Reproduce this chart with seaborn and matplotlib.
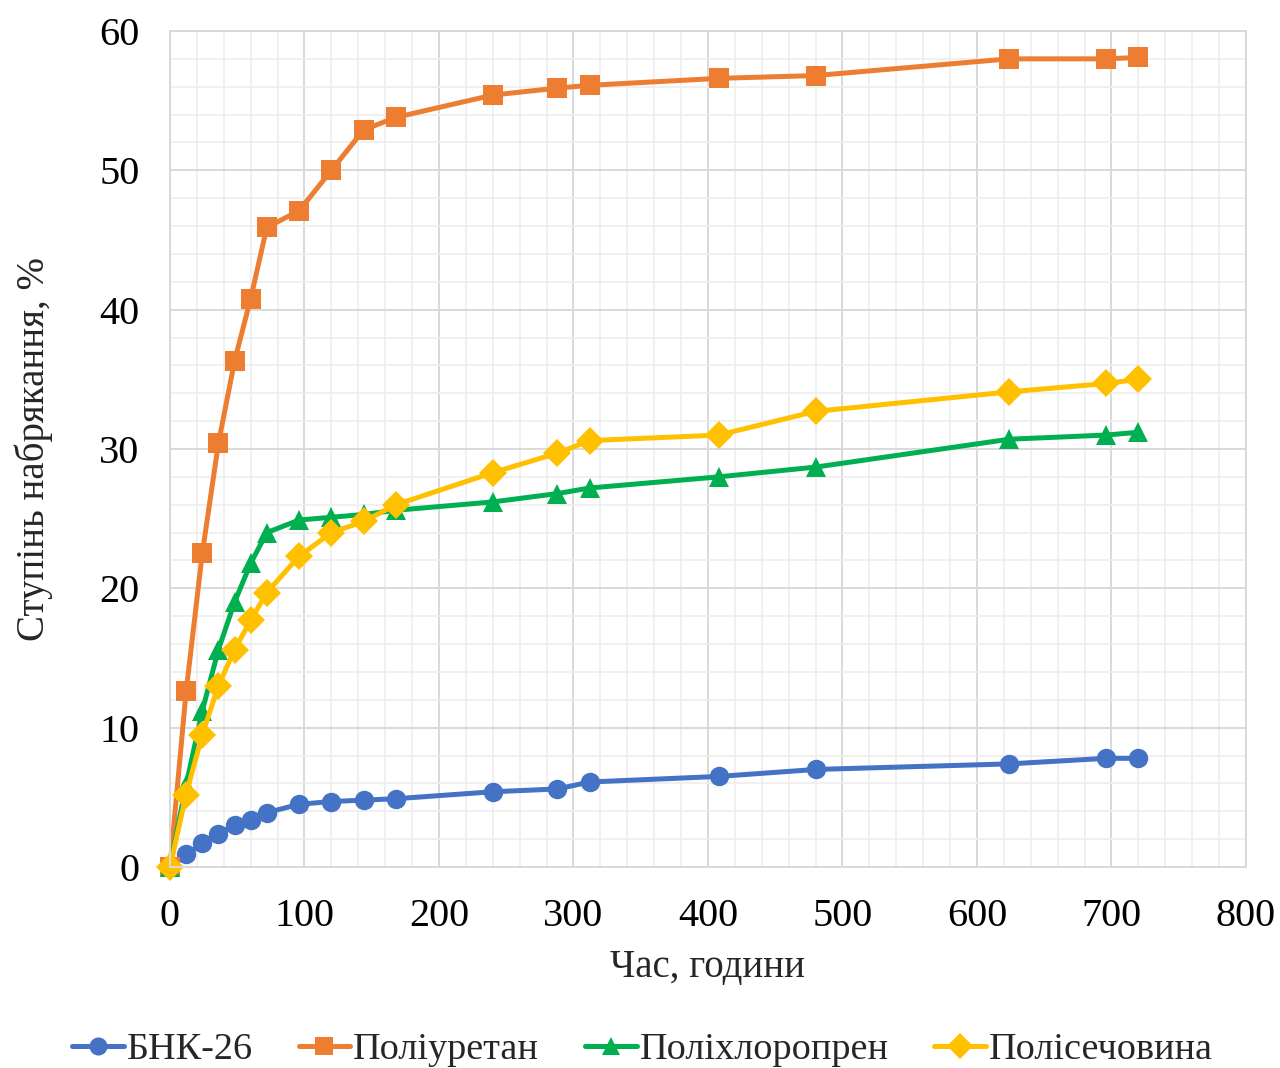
import numpy as np
import pandas as pd
import matplotlib
matplotlib.use("Agg")
import matplotlib.pyplot as plt
import seaborn as sns
from matplotlib.ticker import MultipleLocator

hours = [0, 12, 24, 36, 48, 60, 72, 96, 120, 144, 168, 240, 288, 312, 408, 480, 624, 696, 720]
bnk26 = [0, 0.9, 1.7, 2.4, 3.0, 3.4, 3.9, 4.5, 4.7, 4.8, 4.9, 5.4, 5.6, 6.1, 6.5, 7.0, 7.4, 7.8, 7.8]
polyurethane = [0, 12.6, 22.5, 30.4, 36.3, 40.8, 45.9, 47.1, 50.0, 52.9, 53.8, 55.4, 55.9, 56.1, 56.6, 56.8, 58.0, 58.0, 58.1]
polychloroprene = [0, 5.9, 11.2, 15.6, 19.0, 21.8, 24.0, 24.9, 25.1, 25.3, 25.6, 26.2, 26.8, 27.2, 28.0, 28.7, 30.7, 31.0, 31.2]
polyurea = [0, 5.2, 9.5, 13.0, 15.6, 17.7, 19.7, 22.3, 24.0, 24.8, 26.0, 28.3, 29.7, 30.6, 31.0, 32.7, 34.1, 34.7, 35.0]

names = ["БНК-26", "Поліуретан", "Поліхлоропрен", "Полісечовина"]
colors = ["#4472C4", "#ED7D31", "#00B050", "#FFC000"]
markers = ["o", "s", "^", "D"]

frames = []
for n, vals in zip(names, [bnk26, polyurethane, polychloroprene, polyurea]):
    frames.append(pd.DataFrame({"x": hours, "y": vals, "s": n}))
df = pd.concat(frames, ignore_index=True)

sns.set_theme(style="white")
plt.rcParams['font.family'] = ['Liberation Serif', 'DejaVu Serif']

fig = plt.figure(figsize=(12.8, 10.68), dpi=100)
ax = fig.add_axes([0.1328, 0.1882, 0.8406, 0.7828])

sns.lineplot(data=df, x="x", y="y", hue="s", style="s", hue_order=names, style_order=names,
             palette=colors, markers=markers, dashes=False, linewidth=3.6,
             markersize=14, markeredgewidth=0, ax=ax, sort=False)
for ln in ax.get_lines():
    ln.set_clip_on(False)

ax.set_xlim(0, 800)
ax.set_ylim(0, 60)
ax.xaxis.set_major_locator(MultipleLocator(100))
ax.xaxis.set_minor_locator(MultipleLocator(20))
ax.yaxis.set_major_locator(MultipleLocator(10))
ax.yaxis.set_minor_locator(MultipleLocator(2))
ax.grid(which="major", color="#d9d9d9", linewidth=1.4)
ax.grid(which="minor", color="#eeeeee", linewidth=1.2)
ax.set_axisbelow(True)
for sp in ax.spines.values():
    sp.set_color("#d9d9d9")
    sp.set_linewidth(1.4)
ax.tick_params(axis="both", which="both", length=0, labelsize=29, colors="#000000")
ax.tick_params(axis="x", pad=22.5)
ax.tick_params(axis="y", pad=22)

ax.set_xlabel("Час, години", fontsize=28, labelpad=10)
ax.set_ylabel("Ступінь набрякання, %", fontsize=28, labelpad=33)

handles, labels = ax.get_legend_handles_labels()
leg = ax.legend(handles, labels, loc="center", ncol=4,
                frameon=False, fontsize=27.5, handlelength=1.35, handletextpad=0.08, columnspacing=1.2,
                bbox_to_anchor=(0.502, 0.017), bbox_transform=fig.transFigure)
for h in leg.legend_handles:
    h.set_linewidth(3.6)
    h.set_markersize(13)

fig.savefig("out.png", dpi=100)
